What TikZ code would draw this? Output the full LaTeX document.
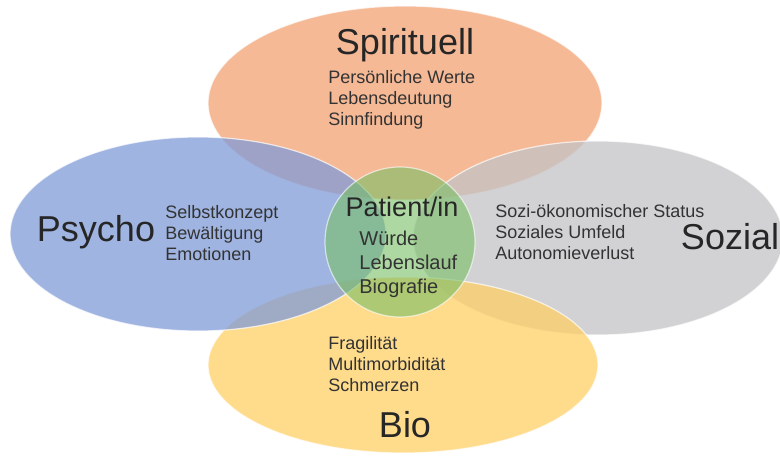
\documentclass[tikz,border=0pt]{standalone}
\usepackage{fontspec}
\setmainfont{Liberation Sans}
\definecolor{spiritcol}{RGB}{242,162,115}
\definecolor{psychocol}{RGB}{128,155,215}
\definecolor{sozialcol}{RGB}{195,195,198}
\definecolor{biocol}{RGB}{255,208,102}
\definecolor{patientcol}{RGB}{120,190,100}
\tikzset{
  blob/.style={fill opacity=.75,draw=white,draw opacity=.7,line width=.6pt},
  biglabel/.style={font=\fontsize{18}{20}\selectfont,text=black!85,anchor=base,inner sep=0pt},
  itemlist/.style={font=\fontsize{9}{10.5}\selectfont,text=black!80,align=left,anchor=west,inner sep=0pt}
}
\begin{document}
\begin{tikzpicture}[x=.5pt,y=-.5pt]
\useasboundingbox[fill=white] (0,0) rectangle (780,459);
% the four spheres, then the person in the middle
\path[blob,fill=spiritcol] (405,103) ellipse [x radius=98.5pt, y radius=48.5pt];
\path[blob,fill=sozialcol] (598,238) ellipse [x radius=92.5pt, y radius=48.5pt];
\path[blob,fill=biocol] (403,365) ellipse [x radius=97.5pt, y radius=44pt];
\path[blob,fill=psychocol] (198,234) ellipse [x radius=94pt, y radius=48.5pt];
\path[fill=patientcol,fill opacity=.6,draw=white,draw opacity=.6,line width=.6pt] (400,242) circle [radius=37.5pt];

\node[biglabel] (spirit) at (405,55) {Spirituell};
\node[itemlist] (spiritlist) at (328,100) {Persönliche Werte\\Lebensdeutung\\Sinnfindung};
\node[biglabel] (psycho) at (96,242) {Psycho};
\node[itemlist] (psycholist) at (165,233) {Selbstkonzept\\Bewältigung\\Emotionen};
\node[biglabel] (sozial) at (730,250) {Sozial};
\node[itemlist] (soziallist) at (495,232) {Sozi-ökonomischer Status\\Soziales Umfeld\\Autonomieverlust};
\node[biglabel] (bio) at (405,437) {Bio};
\node[itemlist] (biolist) at (328,364) {Fragilität\\Multimorbidität\\Schmerzen};
\node[biglabel,font=\fontsize{13.5}{15}\selectfont] (patient) at (402,217) {Patient/in};
\node[itemlist,font=\fontsize{10}{12}\selectfont] (patientlist) at (359,264) {Würde\\Lebenslauf\\Biografie};
\end{tikzpicture}
\end{document}
